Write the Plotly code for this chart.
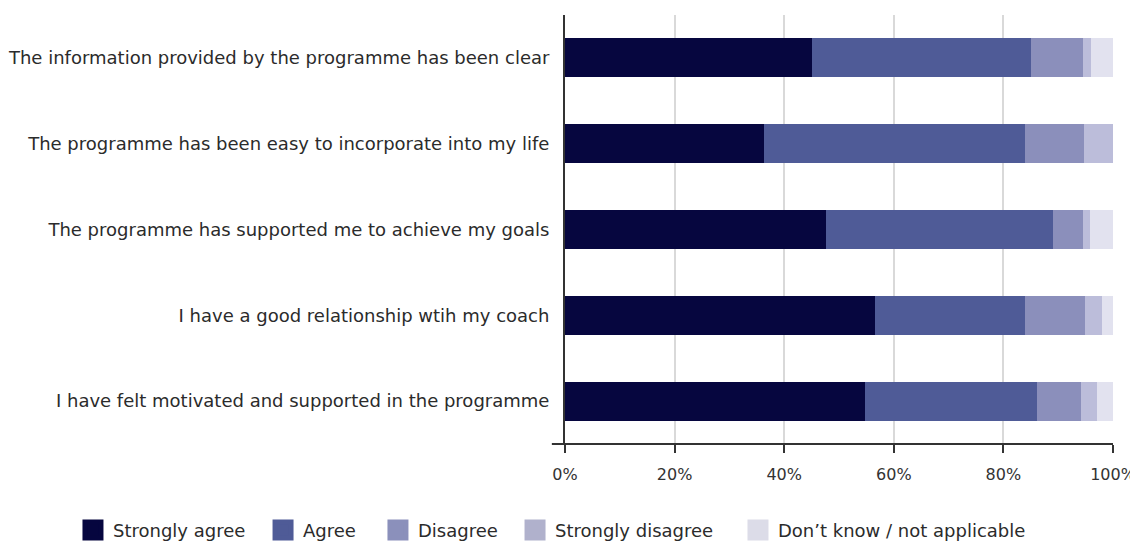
import plotly.graph_objects as go

categories = [
    "The information provided by the programme has been clear",
    "The programme has been easy to incorporate into my life",
    "The programme has supported me to achieve my goals",
    "I have a good relationship wtih my coach",
    "I have felt motivated and supported in the programme",
]
series_names = ["Strongly agree", "Agree", "Disagree", "Strongly disagree", "Don\u2019t know / not applicable"]
strongly_agree = [45.0, 36.3, 47.6, 56.5, 54.7]
agree = [40.0, 47.6, 41.4, 27.4, 31.4]
disagree = [9.5, 10.8, 5.5, 11.0, 8.1]
strongly_disagree = [1.5, 5.3, 1.3, 3.1, 2.9]
dont_know = [4.0, 0.0, 4.2, 2.0, 2.9]
x_ticks = [0, 20, 40, 60, 80, 100]
x_tick_labels = ["0%", "20%", "40%", "60%", "80%", "100%"]

colors = ["#06063f", "#4f5b97", "#8b8fbb", "#bcbdda", "#e2e2ef"]
legend_colors = ["#06063f", "#4f5b97", "#8b90bb", "#b0b1cc", "#dcdce8"]
legend_x = [0.0575, 0.2257, 0.3274, 0.4487, 0.646]

FONT = "DejaVu Sans"
fig = go.Figure()
all_series = [strongly_agree, agree, disagree, strongly_disagree, dont_know]
for name, vals, col in zip(series_names, all_series, colors):
    fig.add_trace(go.Bar(
        y=categories, x=vals, name=name, orientation="h",
        marker=dict(color=col, line=dict(width=0)),
        showlegend=False, width=0.455,
    ))

for i, (name, col) in enumerate(zip(series_names, legend_colors)):
    lg = "legend" if i == 0 else f"legend{i+1}"
    fig.add_trace(go.Scatter(
        x=[None], y=[None], mode="markers", name=name,
        marker=dict(symbol="square", size=16, color=col, line=dict(color=col, width=5)),
        legend=lg, showlegend=True,
    ))

legend_common = dict(orientation="h", yref="container", yanchor="middle", y=0.02,
                     xref="container", xanchor="left",
                     font=dict(family=FONT, size=18, color="#2b2b2b"),
                     bgcolor="rgba(0,0,0,0)", borderwidth=0)
layout_legends = {}
for i, lx in enumerate(legend_x):
    key = "legend" if i == 0 else f"legend{i+1}"
    layout_legends[key] = dict(legend_common, x=lx)

fig.update_layout(
    width=1130, height=533,
    margin=dict(l=557, r=25, t=7, b=97),
    barmode="stack",
    plot_bgcolor="white", paper_bgcolor="white",
    font=dict(family=FONT, size=16, color="#2b2b2b"),
    bargap=0.545,
    **layout_legends,
)
fig.update_xaxes(
    range=[0, 100], tickmode="array", tickvals=x_ticks, ticktext=x_tick_labels,
    showgrid=True, gridcolor="#d9d9d9", gridwidth=2, zeroline=False,
    ticks="outside", ticklen=8, tickwidth=2, tickcolor="#333333",
    showline=False, tickfont=dict(family=FONT, size=16, color="#333333"),
    ticklabelstandoff=8, automargin=False,
)
fig.update_yaxes(
    autorange="reversed", showline=True, linecolor="#333333", linewidth=2,
    ticks="", showgrid=False, tickfont=dict(family=FONT, size=18, color="#2b2b2b"),
    ticklabelstandoff=10, automargin=False,
)
fig.add_shape(type="line", xref="paper", yref="paper", x0=-0.024, x1=1.0, y0=0, y1=0,
              line=dict(color="#333333", width=2), layer="above")

fig.write_html("out.html")
